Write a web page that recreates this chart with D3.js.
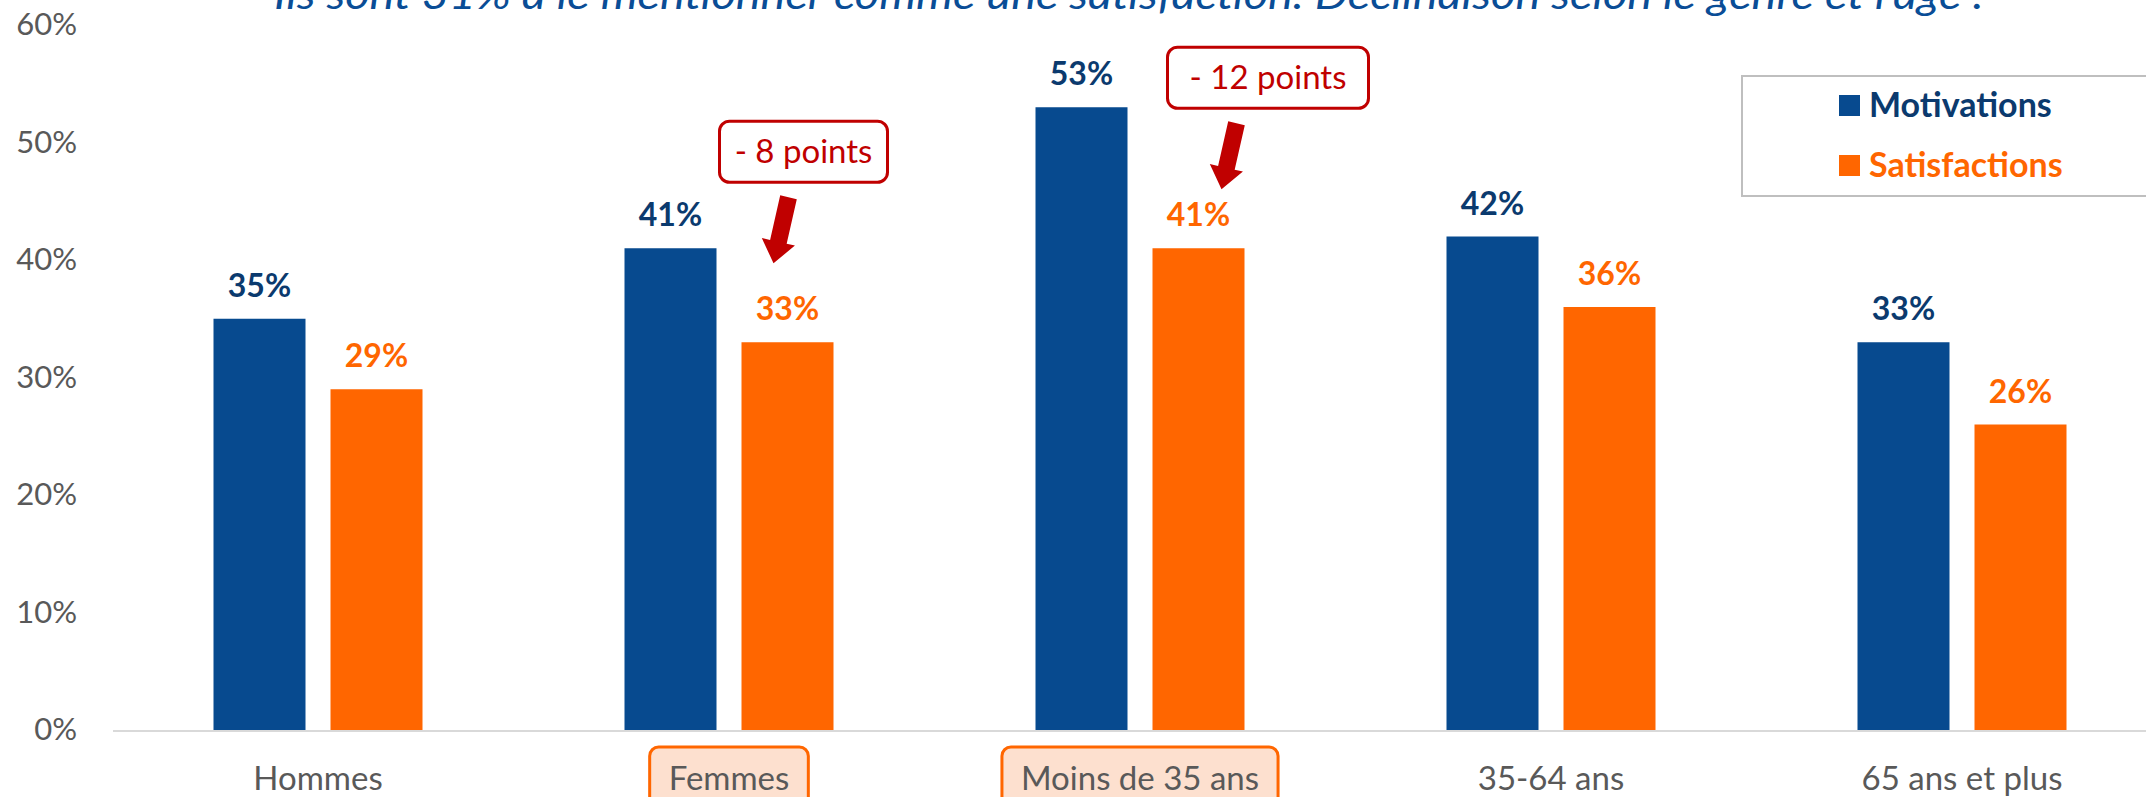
<!DOCTYPE html>
<html>
<head>
<meta charset="utf-8">
<script src="https://cdn.jsdelivr.net/npm/d3@7/dist/d3.min.js"></script>
<style>
  html, body { margin: 0; padding: 0; background: #fff; overflow: hidden; }
  svg { display: block; font-family: Lato, "Open Sans", sans-serif; }
</style>
</head>
<body>
<div id="chart"></div>
<script>
// data
var categories = ["Hommes", "Femmes", "Moins de 35 ans", "35-64 ans", "65 ans et plus"];
var series = ["Motivations", "Satisfactions"];
var motivations = [0.35, 0.41, 0.53, 0.42, 0.33];
var satisfactions = [0.29, 0.33, 0.41, 0.36, 0.26];
var yTicks = [0, 0.1, 0.2, 0.3, 0.4, 0.5, 0.6];
var highlighted = ["Femmes", "Moins de 35 ans"];
var titleText = "Ils sont 31% à le mentionner comme une satisfaction. Déclinaison selon le genre et l'âge :";
var annotations = [
    {category: "Femmes", text: "- 8 points"},
    {category: "Moins de 35 ans", text: "- 12 points"}
];

var width = 2146, height = 797;
var barColors = {"Motivations": "#074a8f", "Satisfactions": "#ff6600"};
var labelColors = {"Motivations": "#0b3a6e", "Satisfactions": "#ff6600"};

var svg = d3.select("#chart").append("svg")
    .attr("width", width)
    .attr("height", height);

// scales
var x = d3.scaleBand()
    .domain(categories)
    .range([112.5, 112.5 + 5 * 411]);

var x1 = d3.scaleBand()
    .domain(series)
    .range([-104.5, 104.5])
    .paddingInner(25 / 117);

var y = d3.scaleLinear()
    .domain([0, 0.6])
    .range([730, 25]);

var fmt = d3.format(".0%");

// title (cut off at top in the original)
svg.append("text")
    .attr("x", 274)
    .attr("y", 9)
    .attr("textLength", 1710)
    .attr("lengthAdjust", "spacingAndGlyphs")
    .attr("font-size", "40px")
    .attr("font-style", "italic")
    .attr("fill", "#0a4d96")
    .text(titleText);

// y axis labels
var yAxis = d3.axisLeft(y)
    .tickValues(yTicks)
    .tickFormat(fmt)
    .tickSize(0)
    .tickPadding(0);

var gy = svg.append("g")
    .attr("transform", "translate(77,0)")
    .call(yAxis);
gy.select(".domain").remove();
gy.selectAll("text")
    .attr("font-family", "Lato, sans-serif")
    .attr("font-size", "31px")
    .attr("fill", "#595959");

// baseline
svg.append("line")
    .attr("x1", 113)
    .attr("x2", width)
    .attr("y1", y(0) + 1)
    .attr("y2", y(0) + 1)
    .attr("stroke", "#d9d9d9")
    .attr("stroke-width", 2);

// bars
var rows = [];
for (var i = 0; i < categories.length; i++) {
    rows.push({cat: categories[i], s: "Motivations", v: motivations[i]});
    rows.push({cat: categories[i], s: "Satisfactions", v: satisfactions[i]});
}

function barX(d) {
    return x(d.cat) + x.bandwidth() / 2 + x1(d.s);
}

svg.selectAll("rect.bar")
    .data(rows)
    .enter()
    .append("rect")
    .attr("class", "bar")
    .attr("x", barX)
    .attr("y", function(d) { return y(d.v); })
    .attr("width", x1.bandwidth())
    .attr("height", function(d) { return y(0) - y(d.v); })
    .attr("fill", function(d) { return barColors[d.s]; });

svg.selectAll("text.val")
    .data(rows)
    .enter()
    .append("text")
    .attr("class", "val")
    .attr("x", function(d) { return barX(d) + x1.bandwidth() / 2; })
    .attr("y", function(d) { return y(d.v) - 22; })
    .attr("text-anchor", "middle")
    .attr("font-size", "32px")
    .attr("font-weight", "bold")
    .attr("fill", function(d) { return labelColors[d.s]; })
    .text(function(d) { return fmt(d.v); });

// category labels, some with a highlight box
var xl = svg.selectAll("g.xlab")
    .data(categories)
    .enter()
    .append("g")
    .attr("class", "xlab")
    .attr("transform", function(d) { return "translate(" + (x(d) + x.bandwidth() / 2) + ",0)"; });

xl.append("text")
    .attr("y", 790)
    .attr("text-anchor", "middle")
    .attr("font-size", "33px")
    .attr("fill", "#595959")
    .text(function(d) { return d; });

xl.each(function(d) {
    if (highlighted.indexOf(d) < 0) return;
    var g = d3.select(this);
    var t = g.select("text");
    var w = t.node().getComputedTextLength();
    g.insert("rect", "text")
        .attr("x", -w / 2 - 19)
        .attr("y", 747)
        .attr("width", w + 38)
        .attr("height", 70)
        .attr("rx", 9)
        .attr("fill", "#fde0cf")
        .attr("stroke", "#ff6600")
        .attr("stroke-width", 3);
});

// legend
var legend = svg.append("g");
legend.append("rect")
    .attr("x", 1742)
    .attr("y", 76)
    .attr("width", 420)
    .attr("height", 120)
    .attr("fill", "#fff")
    .attr("stroke", "#bfbfbf")
    .attr("stroke-width", 2);

series.forEach(function(s, i) {
    var cy = 105 + i * 60;
    legend.append("rect")
        .attr("x", 1839)
        .attr("y", cy - 10)
        .attr("width", 21)
        .attr("height", 21)
        .attr("fill", barColors[s]);
    legend.append("text")
        .attr("x", 1869)
        .attr("y", cy + 12)
        .attr("font-size", "34px")
        .attr("font-weight", "bold")
        .attr("fill", labelColors[s])
        .text(s);
});

// annotation boxes with block arrows (offsets from the orange bar top)
var annoLayout = {
    "Femmes": {bx: 16, by: -221, bw: 168, bh: 61, sx: 1, sy: -145, tx: -14, ty: -79},
    "Moins de 35 ans": {bx: 69.5, by: -201, bw: 201, bh: 61, sx: 38, sy: -125, tx: 23, ty: -59}
};

function arrowPath(sx, sy, tx, ty) {
    var w = 17, hw = 34, hl = 22;
    var dx = tx - sx, dy = ty - sy;
    var len = Math.sqrt(dx * dx + dy * dy);
    var ux = dx / len, uy = dy / len;
    var nx = -uy, ny = ux;
    var bx = tx - ux * hl, by = ty - uy * hl;
    var pts = [
        [sx + nx * w / 2, sy + ny * w / 2],
        [bx + nx * w / 2, by + ny * w / 2],
        [bx + nx * hw / 2, by + ny * hw / 2],
        [tx, ty],
        [bx - nx * hw / 2, by - ny * hw / 2],
        [bx - nx * w / 2, by - ny * w / 2],
        [sx - nx * w / 2, sy - ny * w / 2]
    ];
    return "M" + pts.map(function(p) { return p[0] + "," + p[1]; }).join("L") + "Z";
}

annotations.forEach(function(a) {
    var idx = categories.indexOf(a.category);
    var d = {cat: a.category, s: "Satisfactions", v: satisfactions[idx]};
    var cx = barX(d) + x1.bandwidth() / 2;
    var top = y(d.v);
    var L = annoLayout[a.category];

    svg.append("rect")
        .attr("x", cx + L.bx - L.bw / 2)
        .attr("y", top + L.by)
        .attr("width", L.bw)
        .attr("height", L.bh)
        .attr("rx", 10)
        .attr("fill", "#fff")
        .attr("stroke", "#c00000")
        .attr("stroke-width", 3);

    svg.append("text")
        .attr("x", cx + L.bx)
        .attr("y", top + L.by + L.bh / 2 + 11)
        .attr("text-anchor", "middle")
        .attr("font-size", "33px")
        .attr("fill", "#c00000")
        .text(a.text);

    svg.append("path")
        .attr("d", arrowPath(cx + L.sx, top + L.sy, cx + L.tx, top + L.ty))
        .attr("fill", "#c00000");
});
</script>
</body>
</html>
